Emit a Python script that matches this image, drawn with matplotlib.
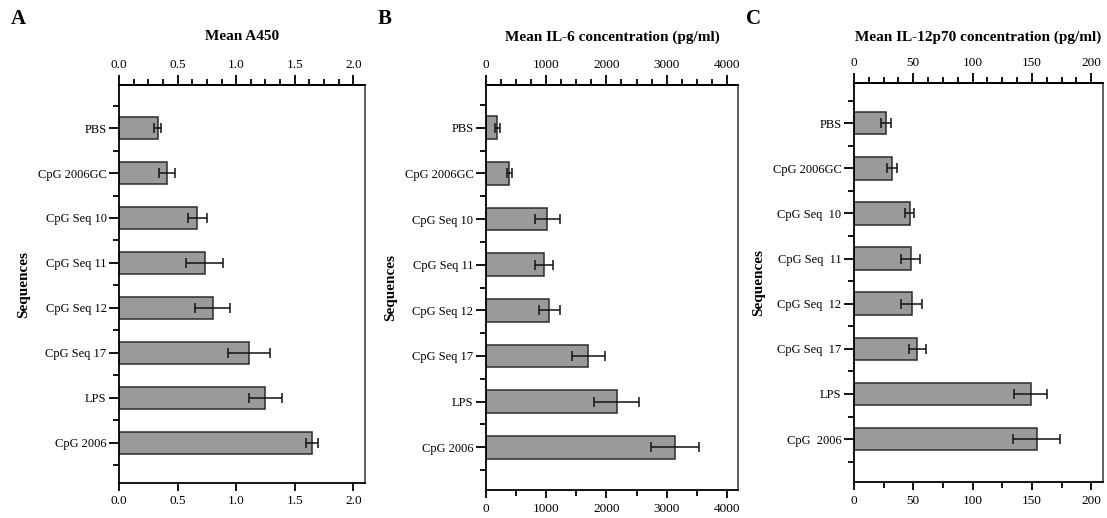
import numpy as np
import matplotlib
matplotlib.use("Agg")
import matplotlib.pyplot as plt
from matplotlib.ticker import MultipleLocator

plt.rcParams['font.family'] = ['Liberation Serif', 'DejaVu Serif']

sequences_ab = ['PBS', 'CpG 2006GC', 'CpG Seq 10', 'CpG Seq 11',
                'CpG Seq 12', 'CpG Seq 17', 'LPS', 'CpG 2006']
sequences_c = ['PBS', 'CpG 2006GC', 'CpG Seq  10', 'CpG Seq  11',
               'CpG Seq  12', 'CpG Seq  17', 'LPS', 'CpG  2006']

a450_mean = [0.33, 0.41, 0.67, 0.73, 0.80, 1.11, 1.25, 1.65]
a450_err = [0.03, 0.07, 0.08, 0.16, 0.15, 0.18, 0.14, 0.05]

il6_mean = [185, 390, 1020, 960, 1050, 1700, 2170, 3140]
il6_err = [40, 40, 210, 150, 175, 275, 370, 400]

il12_mean = [27, 32, 47, 48, 48.5, 53.5, 149, 154]
il12_err = [4, 4, 4, 8, 9, 7.5, 14, 20]

W, H = 1107, 518
fig = plt.figure(figsize=(W / 100, H / 100), dpi=100)

panels = [
    # letter, title, labels, means, errs, xmax, major, top minor, bottom minor, box px, ylim
    ('A', 'Mean A450', sequences_ab, a450_mean, a450_err, 2.1, 0.5, 0.125, None,
     (119, 365, 85, 483), (7.89, -0.956)),
    ('B', 'Mean IL-6 concentration (pg/ml)', sequences_ab, il6_mean, il6_err, 4186, 1000, 250, 500,
     (486, 738, 85, 490), (7.94, -0.94)),
    ('C', 'Mean IL-12p70 concentration (pg/ml)', sequences_c, il12_mean, il12_err, 210, 50, 12.5, 25,
     (854, 1103, 83, 482), (7.95, -0.89)),
]

for letter, title, labels, means, errs, xmax, major, tminor, bminor, box, ylim in panels:
    left, right, top, bottom = box
    ax = fig.add_axes([left / W, 1 - bottom / H, (right - left) / W, (bottom - top) / H])
    y = np.arange(len(labels))
    ax.barh(y, means, height=0.5, color='#9a9a9a', edgecolor='#2b2b2b', linewidth=1.1,
            xerr=errs, error_kw=dict(ecolor='#111111', elinewidth=1.1, capsize=3.5, capthick=1.1))
    ax.set_xlim(0, xmax)
    ax.set_ylim(*ylim)
    ax.set_yticks(y)
    ax.set_yticklabels(labels, fontsize=9)
    ax.set_yticks(np.arange(-0.5, len(labels)), minor=True)
    ax.tick_params(axis='y', which='major', length=7, width=1.3, pad=2)
    ax.tick_params(axis='y', which='minor', length=4, width=1.3)

    majors = np.arange(0, xmax + 1e-9, major)
    ax.set_xticks(majors)
    if bminor:
        ax.set_xticks(np.arange(0, xmax + 1e-9, bminor), minor=True)
    ax.tick_params(axis='x', which='major', length=6, width=1.3, labelsize=9.5, pad=3)
    ax.tick_params(axis='x', which='minor', length=4, width=1.3)
    if major < 1:
        ax.xaxis.set_major_formatter(plt.FormatStrFormatter('%.1f'))

    sec = ax.secondary_xaxis('top')
    sec.set_xticks(majors)
    sec.set_xticks(np.arange(0, xmax + 1e-9, tminor), minor=True)
    if major < 1:
        sec.xaxis.set_major_formatter(plt.FormatStrFormatter('%.1f'))
    sec.tick_params(axis='x', which='major', length=7, width=1.3, labelsize=9.5, pad=3)
    sec.tick_params(axis='x', which='minor', length=4, width=1.3)
    sec.spines['top'].set_linewidth(1.3)

    for s in ax.spines.values():
        s.set_linewidth(1.3)
    ax.spines['right'].set_color('#555555')

    ax.set_ylabel('Sequences', fontsize=11, fontweight='bold', labelpad=5)
    fig.text((left + right) / 2 / W, 1 - 37 / H, title, ha='center', va='center',
             fontsize=11, fontweight='bold')
    fig.text((left - 108) / W, 1 - 19 / H, letter, ha='left', va='center',
             fontsize=15, fontweight='bold')

fig.savefig('out.png', dpi=100)
